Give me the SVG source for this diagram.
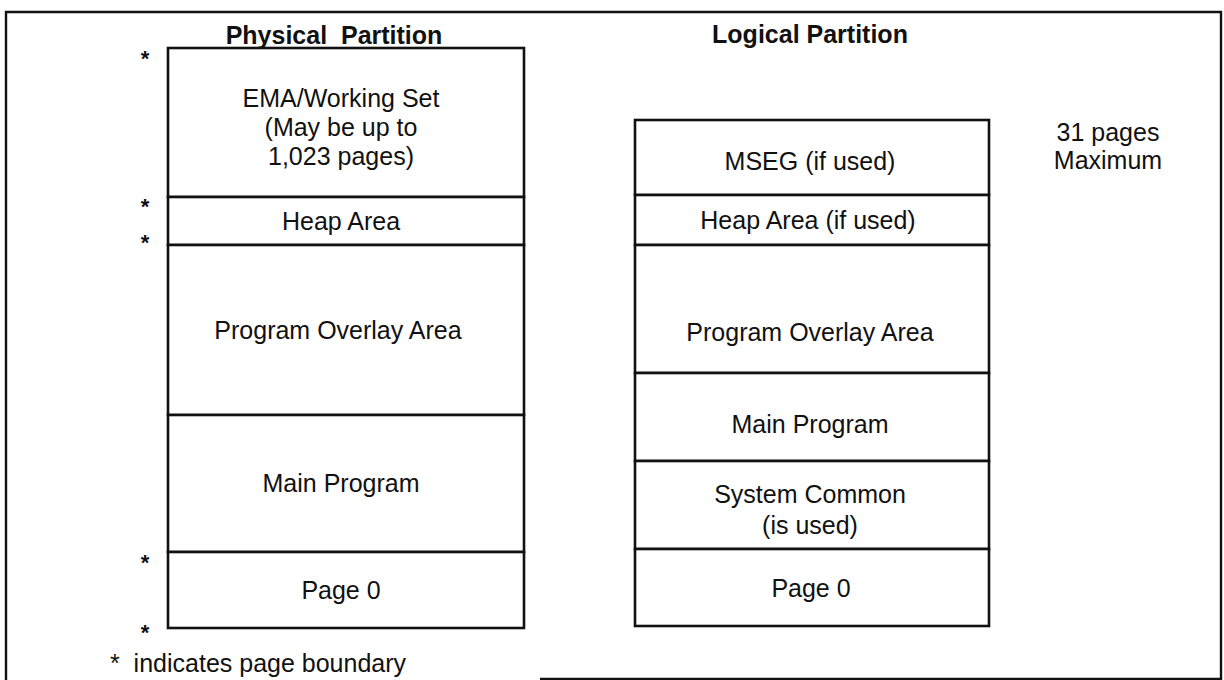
<svg xmlns="http://www.w3.org/2000/svg" width="1224" height="680" viewBox="0 0 1224 680">
  <style>
    .cell { fill: #ffffff; stroke: #111111; stroke-width: 2.6; }
    .frame { fill: none; stroke: #111111; stroke-width: 2.4; }
    .lbl { font-family: "Liberation Sans", Arial, Helvetica, sans-serif; font-size: 25px; fill: #111111; text-anchor: middle; }
    .title { font-family: "Liberation Sans", Arial, Helvetica, sans-serif; font-size: 25px; font-weight: bold; fill: #111111; text-anchor: middle; }
    .star { font-family: "Liberation Sans", Arial, Helvetica, sans-serif; font-size: 22px; font-weight: bold; fill: #111111; text-anchor: middle; }
  </style>

  <!-- outer border; the bottom edge runs off the sheet on the left -->
  <path class="frame" d="M6,680 V12 H1221 V679 H540"/>

  <!-- column headings -->
  <text id="title-physical" class="title" x="334" y="44" xml:space="preserve">Physical  Partition</text>
  <text id="title-logical" class="title" x="810" y="43">Logical Partition</text>

  <!-- physical partition stack -->
  <g id="physical">
    <g id="p-ema">
      <rect class="cell" x="168" y="48" width="356" height="149"/>
      <text class="lbl" x="341" y="107">EMA/Working Set</text>
      <text class="lbl" x="341" y="136">(May be up to</text>
      <text class="lbl" x="341" y="165">1,023 pages)</text>
    </g>
    <g id="p-heap">
      <rect class="cell" x="168" y="197" width="356" height="48"/>
      <text class="lbl" x="341" y="230">Heap Area</text>
    </g>
    <g id="p-overlay">
      <rect class="cell" x="168" y="245" width="356" height="170"/>
      <text class="lbl" x="338" y="339">Program Overlay Area</text>
    </g>
    <g id="p-main">
      <rect class="cell" x="168" y="415" width="356" height="137"/>
      <text class="lbl" x="341" y="492">Main Program</text>
    </g>
    <g id="p-page0">
      <rect class="cell" x="168" y="552" width="356" height="76"/>
      <text class="lbl" x="341" y="599">Page 0</text>
    </g>
  </g>

  <!-- page boundary marks -->
  <g id="boundaries">
    <text class="star" x="145" y="66">*</text>
    <text class="star" x="145" y="214">*</text>
    <text class="star" x="145" y="250">*</text>
    <text class="star" x="145" y="570">*</text>
    <text class="star" x="145" y="640">*</text>
  </g>

  <!-- logical partition stack -->
  <g id="logical">
    <g id="l-mseg">
      <rect class="cell" x="635" y="120" width="354" height="75"/>
      <text class="lbl" x="810" y="170">MSEG (if used)</text>
    </g>
    <g id="l-heap">
      <rect class="cell" x="635" y="195" width="354" height="50"/>
      <text class="lbl" x="808" y="229">Heap Area (if used)</text>
    </g>
    <g id="l-overlay">
      <rect class="cell" x="635" y="245" width="354" height="128"/>
      <text class="lbl" x="810" y="341">Program Overlay Area</text>
    </g>
    <g id="l-main">
      <rect class="cell" x="635" y="373" width="354" height="88"/>
      <text class="lbl" x="810" y="433">Main Program</text>
    </g>
    <g id="l-common">
      <rect class="cell" x="635" y="461" width="354" height="88"/>
      <text class="lbl" x="810" y="503">System Common</text>
      <text class="lbl" x="810" y="534">(is used)</text>
    </g>
    <g id="l-page0">
      <rect class="cell" x="635" y="549" width="354" height="77"/>
      <text class="lbl" x="811" y="597">Page 0</text>
    </g>
  </g>

  <!-- size note -->
  <g id="note-max">
    <text class="lbl" x="1108" y="141">31 pages</text>
    <text class="lbl" x="1108" y="169">Maximum</text>
  </g>

  <!-- legend -->
  <g id="legend">
    <text class="lbl" x="110" y="672" style="text-anchor:start" xml:space="preserve">*  indicates page boundary</text>
  </g>
</svg>
